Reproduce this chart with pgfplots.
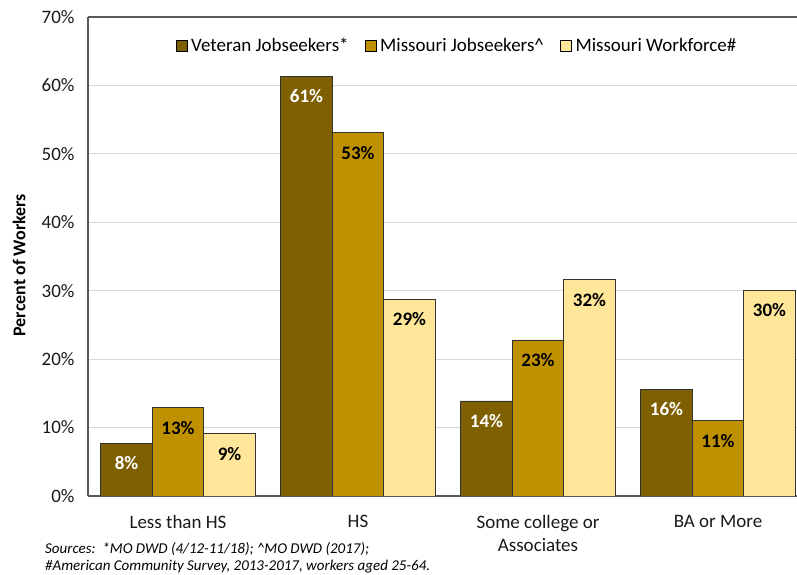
\documentclass[border=0pt]{standalone}
\usepackage{fontspec}
\setmainfont{Carlito}
\usepackage{pgfplots}
\pgfplotsset{compat=1.18}

\definecolor{vet}{HTML}{7F6000}
\definecolor{mojob}{HTML}{BF9000}
\definecolor{mowf}{HTML}{FFE699}
\definecolor{gridc}{HTML}{D9D9D9}
\definecolor{axc}{HTML}{595959}

\begin{document}
\begin{tikzpicture}
\useasboundingbox (0,0) rectangle (797pt,575pt);
\begin{axis}[
    at={(88pt,79pt)}, anchor=south west,
    scale only axis,
    width=720pt, height=479pt,
    ybar=0pt, bar width=51.5pt,
    xmin=-0.5, xmax=3.5,
    ymin=0, ymax=70,
    ytick={0,10,...,70},
    yticklabel={\pgfmathprintnumber{\tick}\%},
    xtick={0,1,2,3},
    xticklabels={Less than HS, HS, {Some college or\\Associates}, BA or More},
    major tick length=0pt,
    axis x line=box, axis y line=left,
    axis line style={axc, line width=1.2pt},
    y axis line style={-},
    x axis line style={-},
    ymajorgrids,
    grid style={gridc, line width=0.9pt},
    /pgf/number format/assume math mode=true,
    tick label style={font=\fontsize{19}{23}\selectfont, text=black!90},
    xticklabel style={align=center, yshift=-16pt},
    yticklabel style={xshift=-10pt},
    ylabel={Percent of Workers},
    every axis y label/.style={at={(rel axis cs:-0.0958,0.482)}, rotate=90, anchor=center,
        font=\fontsize{18}{22}\selectfont\bfseries},
    nodes near coords={\pgfmathprintnumber[fixed,precision=0]{\pgfplotspointmeta}\%},
    every node near coord/.append style={anchor=north, inner sep=0pt, yshift=-13pt,
        font=\fontsize{19}{23}\selectfont\bfseries},
    legend columns=-1,
    legend style={at={(rel axis cs:0.5125,0.9395)}, anchor=center, draw=none, fill=none,
        font=\fontsize{19}{23}\selectfont,
        /tikz/every odd column/.append style={column sep=2pt},
        /tikz/every even column/.append style={column sep=14pt}},
    legend image code/.code={\draw[#1, draw=black, line width=0.6pt] (0pt,-5.5pt) rectangle (11pt,5.5pt);},
]
% Veteran Jobseekers
\addplot[fill=vet, draw=black!80, line width=0.6pt,
    every node near coord/.append style={text=white}] coordinates {
    (0,7.7) (1,61.3) (2,13.9) (3,15.6)
};
% Missouri Jobseekers
\addplot[fill=mojob, draw=black!80, line width=0.6pt,
    every node near coord/.append style={text=black}] coordinates {
    (0,12.9) (1,53.1) (2,22.8) (3,11.0)
};
% Missouri Workforce
\addplot[fill=mowf, draw=black!80, line width=0.6pt,
    every node near coord/.append style={text=black}] coordinates {
    (0,9.1) (1,28.8) (2,31.6) (3,30.1)
};
\legend{Veteran Jobseekers*, Missouri Jobseekers\textasciicircum, Missouri Workforce\#}
\end{axis}
\node[anchor=west, font=\fontsize{15}{18}\selectfont\itshape, inner sep=0pt] at (45pt,26pt)
    {Sources:\ \ *MO DWD (4/12-11/18); \textasciicircum MO DWD (2017);};
\node[anchor=west, font=\fontsize{15}{18}\selectfont\itshape, inner sep=0pt] at (45pt,8pt)
    {\#American Community Survey, 2013-2017, workers aged 25-64.};
\end{tikzpicture}
\end{document}
